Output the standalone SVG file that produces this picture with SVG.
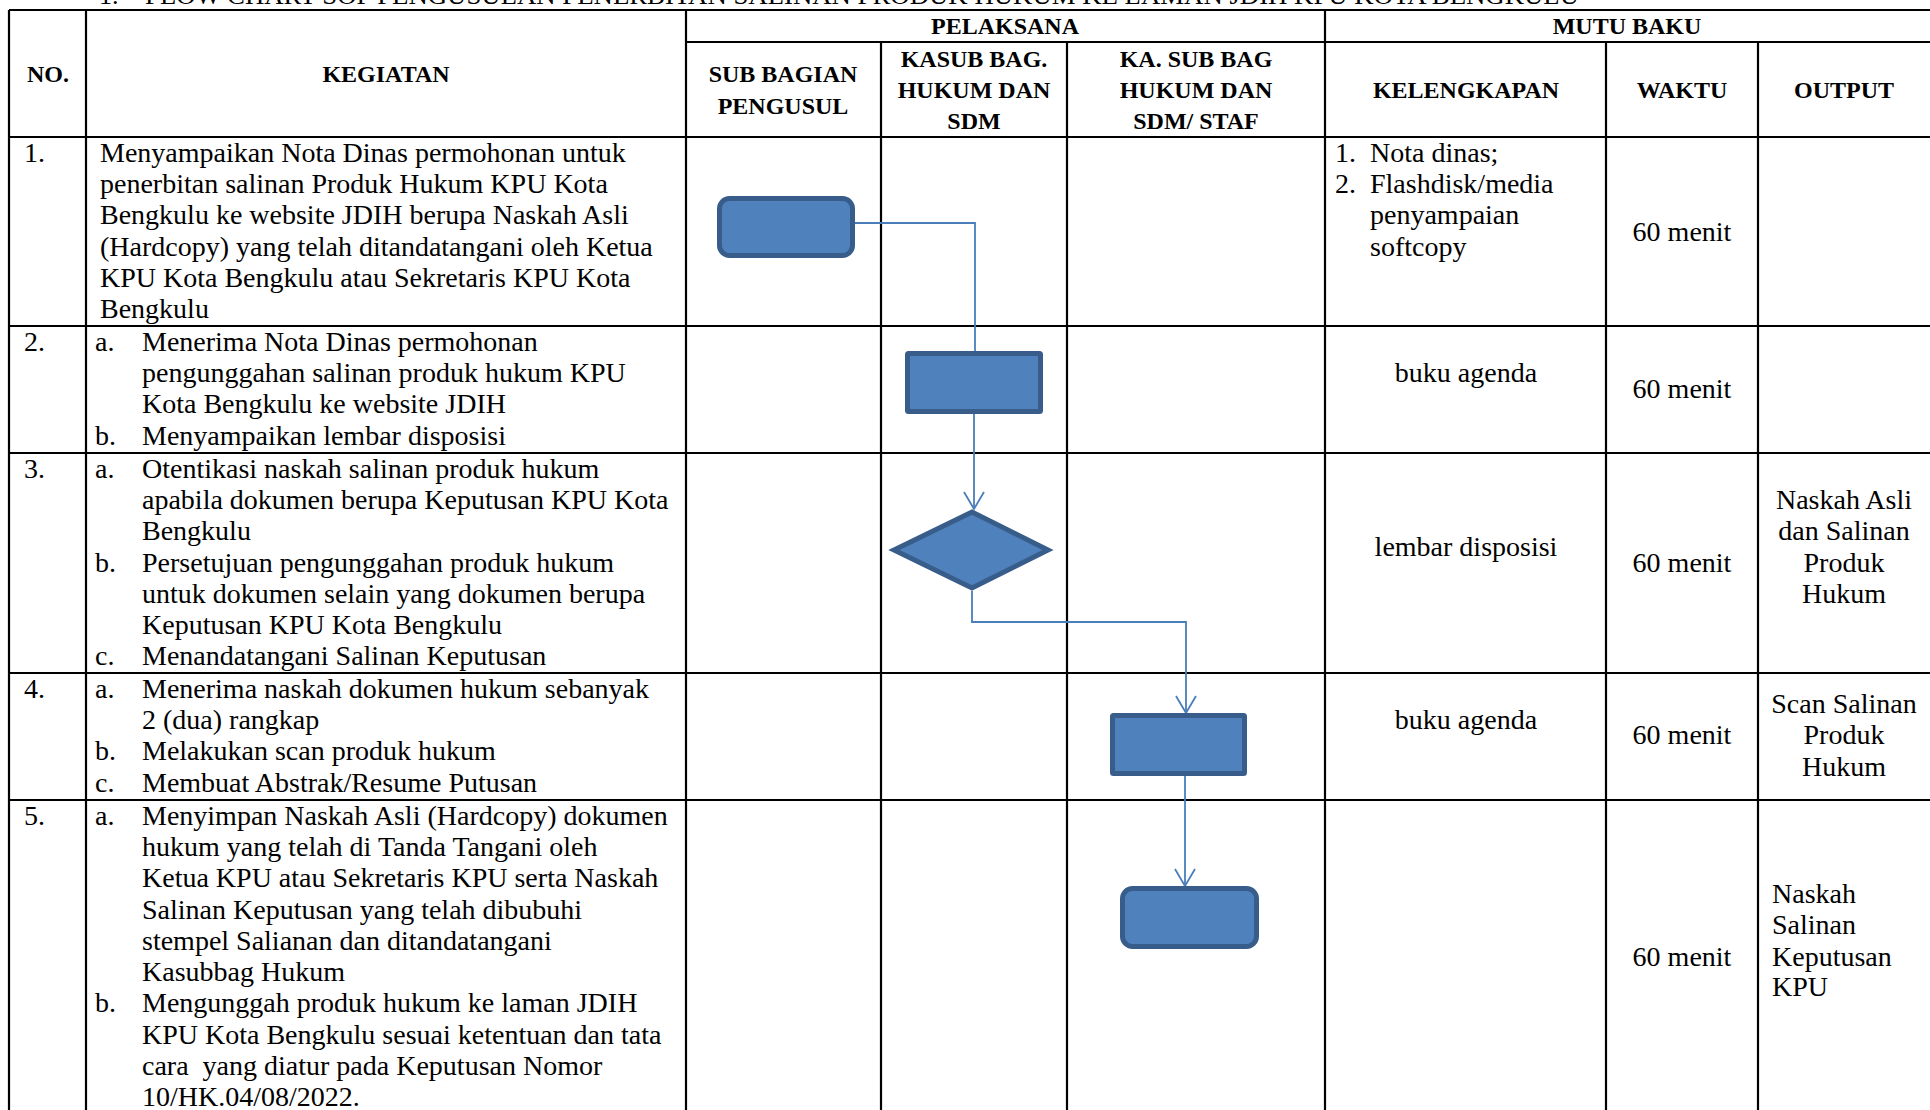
<svg xmlns="http://www.w3.org/2000/svg" width="1930" height="1110" viewBox="0 0 1930 1110">
<style>
  .bg { fill: #ffffff; }
  .grid line { stroke: #000000; stroke-width: 2.2; }
  .h { font-family: "Liberation Serif", "Times New Roman", serif; font-weight: bold; font-size: 24px; fill: #000; text-anchor: middle; }
  .t { font-family: "Liberation Serif", "Times New Roman", serif; font-size: 28px; fill: #000; }
  .c { text-anchor: middle; }
  .ttl { font-family: "Liberation Serif", "Times New Roman", serif; font-size: 26px; fill: #000; }
  .node { fill: #4F81BD; stroke: #385D8A; stroke-width: 5; }
  .conn { fill: none; stroke: #4A7EBB; stroke-width: 1.8; }
</style>
<defs>
  <marker id="arr" markerUnits="userSpaceOnUse" markerWidth="40" markerHeight="40" refX="0" refY="0" orient="auto" overflow="visible">
    <path d="M -17 -10 L 0 0 L -17 10" fill="none" stroke="#4A7EBB" stroke-width="1.8"/>
  </marker>
</defs>
<rect class="bg" x="0" y="0" width="1930" height="1110"/>

<!-- clipped title at top -->
<g id="title">
  <text class="ttl" x="99" y="4">1.</text>
  <text class="ttl" x="145" y="4" textLength="1434" lengthAdjust="spacingAndGlyphs">FLOW CHART SOP PENGUSULAN PENERBITAN SALINAN PRODUK HUKUM KE LAMAN JDIH KPU KOTA BENGKULU</text>
</g>

<!-- table grid -->
<g id="grid" class="grid">
  <line x1="9" y1="10" x2="1930" y2="10"/>
  <line x1="686" y1="42" x2="1930" y2="42"/>
  <line x1="9" y1="137" x2="1930" y2="137"/>
  <line x1="9" y1="326" x2="1930" y2="326"/>
  <line x1="9" y1="453" x2="1930" y2="453"/>
  <line x1="9" y1="673" x2="1930" y2="673"/>
  <line x1="9" y1="800" x2="1930" y2="800"/>
  <line x1="9" y1="10" x2="9" y2="1110"/>
  <line x1="86" y1="10" x2="86" y2="1110"/>
  <line x1="686" y1="10" x2="686" y2="1110"/>
  <line x1="881" y1="42" x2="881" y2="1110"/>
  <line x1="1067" y1="42" x2="1067" y2="1110"/>
  <line x1="1325" y1="10" x2="1325" y2="1110"/>
  <line x1="1606" y1="42" x2="1606" y2="1110"/>
  <line x1="1758" y1="42" x2="1758" y2="1110"/>
</g>

<!-- header -->
<g id="header">
  <text class="h" x="48" y="82">NO.</text>
  <text class="h" x="386" y="82">KEGIATAN</text>
  <text class="h" x="1005" y="34">PELAKSANA</text>
  <text class="h" x="1627" y="34">MUTU BAKU</text>
  <text class="h" x="783" y="82">SUB BAGIAN</text>
  <text class="h" x="783" y="114">PENGUSUL</text>
  <text class="h" x="974" y="67">KASUB BAG.</text>
  <text class="h" x="974" y="98">HUKUM DAN</text>
  <text class="h" x="974" y="129">SDM</text>
  <text class="h" x="1196" y="67">KA. SUB BAG</text>
  <text class="h" x="1196" y="98">HUKUM DAN</text>
  <text class="h" x="1196" y="129">SDM/ STAF</text>
  <text class="h" x="1466" y="98">KELENGKAPAN</text>
  <text class="h" x="1682" y="98">WAKTU</text>
  <text class="h" x="1844" y="98">OUTPUT</text>
</g>

<!-- row 1 -->
<g id="row1">
  <text class="t" x="24" y="162">1.</text>
  <text class="t" x="100" y="162">Menyampaikan Nota Dinas permohonan untuk</text>
  <text class="t" x="100" y="193">penerbitan salinan Produk Hukum KPU Kota</text>
  <text class="t" x="100" y="224">Bengkulu ke website JDIH berupa Naskah Asli</text>
  <text class="t" x="100" y="256">(Hardcopy) yang telah ditandatangani oleh Ketua</text>
  <text class="t" x="100" y="287">KPU Kota Bengkulu atau Sekretaris KPU Kota</text>
  <text class="t" x="100" y="318">Bengkulu</text>
  <text class="t" x="1335" y="162">1.</text>
  <text class="t" x="1370" y="162">Nota dinas;</text>
  <text class="t" x="1335" y="193">2.</text>
  <text class="t" x="1370" y="193">Flashdisk/media</text>
  <text class="t" x="1370" y="224">penyampaian</text>
  <text class="t" x="1370" y="256">softcopy</text>
  <text class="t c" x="1682" y="241">60 menit</text>
</g>

<!-- row 2 -->
<g id="row2">
  <text class="t" x="24" y="351">2.</text>
  <text class="t" x="95" y="351">a.</text>
  <text class="t" x="142" y="351">Menerima Nota Dinas permohonan</text>
  <text class="t" x="142" y="382">pengunggahan salinan produk hukum KPU</text>
  <text class="t" x="142" y="413">Kota Bengkulu ke website JDIH</text>
  <text class="t" x="95" y="445">b.</text>
  <text class="t" x="142" y="445">Menyampaikan lembar disposisi</text>
  <text class="t c" x="1466" y="382">buku agenda</text>
  <text class="t c" x="1682" y="398">60 menit</text>
</g>

<!-- row 3 -->
<g id="row3">
  <text class="t" x="24" y="478">3.</text>
  <text class="t" x="95" y="478">a.</text>
  <text class="t" x="142" y="478">Otentikasi naskah salinan produk hukum</text>
  <text class="t" x="142" y="509">apabila dokumen berupa Keputusan KPU Kota</text>
  <text class="t" x="142" y="540">Bengkulu</text>
  <text class="t" x="95" y="572">b.</text>
  <text class="t" x="142" y="572">Persetujuan pengunggahan produk hukum</text>
  <text class="t" x="142" y="603">untuk dokumen selain yang dokumen berupa</text>
  <text class="t" x="142" y="634">Keputusan KPU Kota Bengkulu</text>
  <text class="t" x="95" y="665">c.</text>
  <text class="t" x="142" y="665">Menandatangani Salinan Keputusan</text>
  <text class="t c" x="1466" y="556">lembar disposisi</text>
  <text class="t c" x="1682" y="572">60 menit</text>
  <text class="t c" x="1844" y="509">Naskah Asli</text>
  <text class="t c" x="1844" y="540">dan Salinan</text>
  <text class="t c" x="1844" y="572">Produk</text>
  <text class="t c" x="1844" y="603">Hukum</text>
</g>

<!-- row 4 -->
<g id="row4">
  <text class="t" x="24" y="698">4.</text>
  <text class="t" x="95" y="698">a.</text>
  <text class="t" x="142" y="698">Menerima naskah dokumen hukum sebanyak</text>
  <text class="t" x="142" y="729">2 (dua) rangkap</text>
  <text class="t" x="95" y="760">b.</text>
  <text class="t" x="142" y="760">Melakukan scan produk hukum</text>
  <text class="t" x="95" y="792">c.</text>
  <text class="t" x="142" y="792">Membuat Abstrak/Resume Putusan</text>
  <text class="t c" x="1466" y="729">buku agenda</text>
  <text class="t c" x="1682" y="744">60 menit</text>
  <text class="t c" x="1844" y="713">Scan Salinan</text>
  <text class="t c" x="1844" y="744">Produk</text>
  <text class="t c" x="1844" y="776">Hukum</text>
</g>

<!-- row 5 -->
<g id="row5">
  <text class="t" x="24" y="825">5.</text>
  <text class="t" x="95" y="825">a.</text>
  <text class="t" x="142" y="825">Menyimpan Naskah Asli (Hardcopy) dokumen</text>
  <text class="t" x="142" y="856">hukum yang telah di Tanda Tangani oleh</text>
  <text class="t" x="142" y="887">Ketua KPU atau Sekretaris KPU serta Naskah</text>
  <text class="t" x="142" y="919">Salinan Keputusan yang telah dibubuhi</text>
  <text class="t" x="142" y="950">stempel Salianan dan ditandatangani</text>
  <text class="t" x="142" y="981">Kasubbag Hukum</text>
  <text class="t" x="95" y="1012">b.</text>
  <text class="t" x="142" y="1012">Mengunggah produk hukum ke laman JDIH</text>
  <text class="t" x="142" y="1044">KPU Kota Bengkulu sesuai ketentuan dan tata</text>
  <text class="t" x="142" y="1075" xml:space="preserve">cara  yang diatur pada Keputusan Nomor</text>
  <text class="t" x="142" y="1106">10/HK.04/08/2022.</text>
  <text class="t c" x="1682" y="966">60 menit</text>
  <text class="t" x="1772" y="903">Naskah</text>
  <text class="t" x="1772" y="934">Salinan</text>
  <text class="t" x="1772" y="966">Keputusan</text>
  <text class="t" x="1772" y="996">KPU</text>
</g>

<!-- connectors -->
<g id="connectors">
  <path class="conn" d="M 855 223 L 975 223 L 975 351"/>
  <path class="conn" d="M 974 414 L 974 509" marker-end="url(#arr)"/>
  <path class="conn" d="M 972 591 L 972 622 L 1186 622 L 1186 713" marker-end="url(#arr)"/>
  <path class="conn" d="M 1185 776 L 1185 886" marker-end="url(#arr)"/>
</g>

<!-- nodes -->
<g id="node-start">
  <rect class="node" x="719.5" y="198.5" width="133" height="57" rx="10"/>
</g>
<g id="node-receive">
  <rect class="node" x="907.5" y="353.5" width="133" height="58" rx="1"/>
</g>
<g id="node-decision">
  <polygon class="node" points="894,550 972,512 1048,550 972,588"/>
</g>
<g id="node-scan">
  <rect class="node" x="1112.5" y="715.5" width="132" height="58" rx="1"/>
</g>
<g id="node-end">
  <rect class="node" x="1122.5" y="888.5" width="134" height="58" rx="10"/>
</g>
</svg>
